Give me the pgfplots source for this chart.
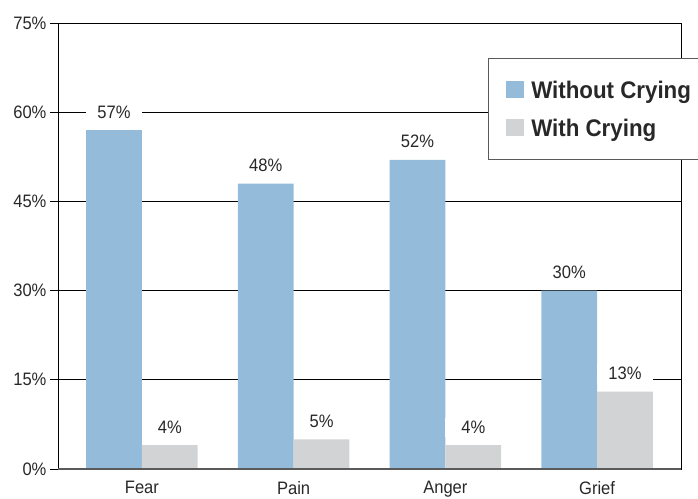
\documentclass[border=0pt]{standalone}
\usepackage{fontspec}
\setmainfont[FakeStretch=0.92]{Liberation Sans}
\newfontfamily\legendfont[FakeStretch=0.93]{Liberation Sans}
\usepackage{pgfplots}
\pgfplotsset{compat=1.18}

\definecolor{barblue}{RGB}{148,188,218}
\definecolor{bargray}{RGB}{210,211,213}
\definecolor{txt}{RGB}{40,40,40}
\definecolor{framegray}{RGB}{90,90,90}

\begin{document}
\begin{tikzpicture}
\useasboundingbox (0,0) rectangle (698pt,498pt);
\begin{axis}[
  at={(58pt,29pt)}, anchor=south west,
  scale only axis, width=623pt, height=446pt,
  /pgf/number format/assume math mode=true,
  font=\fontsize{18}{21}\selectfont\color{txt},
  ymin=0, ymax=75, ytick={0,15,30,45,60,75},
  yticklabel={\pgfmathprintnumber{\tick}\%},
  ymajorgrids, grid style={black, line width=0.7pt},
  tickpos=left, tick align=outside, major tick length=8pt,
  ytick style={black, line width=0.7pt},
  xmin=-0.553, xmax=3.553,
  xtick={0,1,2,3}, xticklabels={Fear,Pain,Anger,Grief},
  xtick style={draw=none},
  xticklabel style={yshift=-1pt},
  axis line style={black, line width=0.9pt},
  ybar=0pt, bar width=0.368,
  nodes near coords={\pgfmathprintnumber{\pgfplotspointmeta}\%},
  nodes near coords style={fill=white, minimum width=56pt, inner ysep=3pt,
    anchor=south, yshift=8.5pt, font=\fontsize{18}{21}\selectfont\color{txt}},
  legend style={at={(rel axis cs:0.690,0.921)}, anchor=north west,
    draw=framegray, line width=0.8pt, fill=white,
    inner xsep=18pt, inner ysep=22pt, row sep=19pt, column sep=7pt,
    nodes={inner sep=0pt},
    font=\legendfont\bfseries\fontsize{24}{28}\selectfont\color{txt}},
  legend cell align=left,
  legend image code/.code={\path[#1, draw=none] (0pt,-8pt) rectangle (18pt,9.5pt);},
]
\addplot[fill=barblue, draw=none] coordinates {(0,57) (1,48) (2,52) (3,30)};
\addplot[fill=bargray, draw=none] coordinates {(0,4) (1,5) (2,4) (3,13)};
\legend{\makebox[190pt][l]{Without Crying}, With Crying}
\draw[framegray, line width=1.6pt] (rel axis cs:0,0) -- (rel axis cs:1,0);
\end{axis}
\end{tikzpicture}
\end{document}
